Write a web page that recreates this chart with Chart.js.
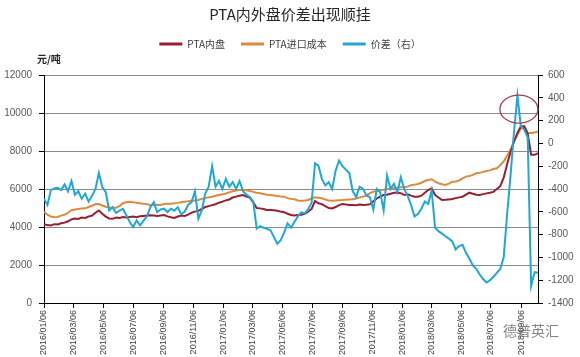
<!DOCTYPE html>
<html><head><meta charset="utf-8">
<script src="https://cdn.jsdelivr.net/npm/chart.js@4"></script>
<style>html,body{margin:0;padding:0;background:#fff;}canvas{display:block;}</style>
</head><body>
<canvas id="c" width="580" height="357"></canvas>
<script>
// ---- data ----
const startDate = '2016/01/06';
const weekCount = 145; // weekly observations from 2016/01/06
const tickLabels = ['2016/01/06','2016/03/06','2016/05/06','2016/07/06','2016/09/06','2016/11/06',
  '2017/01/06','2017/03/06','2017/05/06','2017/07/06','2017/09/06','2017/11/06',
  '2018/01/06','2018/03/06','2018/05/06','2018/07/06','2018/09/06'];
const leftTicks = [0,2000,4000,6000,8000,10000,12000];
const rightTicks = [-1400,-1200,-1000,-800,-600,-400,-200,0,200,400,600];

const domestic = [4150,4100,4080,4150,4130,4200,4230,4300,4400,4450,4420,4500,4480,4550,4600,4750,4870,4700,4550,4450,
  4430,4500,4480,4520,4500,4530,4550,4520,4560,4580,4600,4620,4600,4580,4610,4632,4560,4510,4480,4550,
  4600,4580,4650,4750,4810,4850,4950,5050,5100,5150,5200,5280,5334,5400,5450,5550,5600,5650,5685,5600,
  5544,5300,5000,4980,4950,4900,4895,4880,4850,4810,4780,4700,4632,4600,4626,4650,4700,4802,4950,5366,
  5250,5207,5100,5000,4978,5050,5150,5207,5180,5160,5155,5150,5180,5155,5170,5200,5350,5500,5600,5683,
  5700,5750,5806,5800,5780,5683,5720,5650,5595,5595,5650,5800,5948,6035,5683,5550,5419,5430,5450,5472,
  5520,5560,5595,5700,5806,5750,5700,5683,5730,5770,5800,5850,6000,6150,6600,7300,7950,8500,8950,9290,
  9300,8900,7800,7800,7880];
const importCost = [4808,4650,4550,4510,4530,4600,4650,4750,4880,4920,4950,4980,4983,5050,5120,5200,5210,5130,5070,5030,
  5018,5018,5100,5250,5300,5334,5300,5280,5246,5230,5200,5160,5158,5170,5160,5210,5220,5230,5250,5270,
  5300,5334,5350,5380,5400,5420,5480,5520,5560,5597,5640,5680,5720,5760,5820,5880,5920,5948,5960,5930,
  5895,5850,5800,5772,5740,5700,5685,5660,5630,5600,5597,5520,5480,5457,5400,5386,5400,5420,5500,5560,
  5540,5509,5450,5400,5386,5400,5410,5420,5440,5450,5457,5500,5560,5600,5650,5780,5860,5900,5940,5960,
  5990,6020,6035,6060,6088,6100,6124,6200,6230,6263,6330,6420,6476,6511,6388,6300,6247,6212,6280,6388,
  6400,6450,6560,6652,6680,6740,6828,6850,6900,6950,6980,7050,7093,7250,7450,7750,8062,8500,8850,9200,
  9295,8950,8943,8978,9031];
const spread = [-486,-540,-410,-395,-390,-410,-360,-420,-330,-450,-420,-486,-440,-510,-460,-400,-260,-384,-428,-588,
  -559,-610,-590,-575,-631,-690,-733,-675,-719,-680,-640,-559,-515,-602,-580,-573,-602,-573,-590,-560,
  -620,-600,-540,-515,-420,-660,-588,-440,-380,-200,-380,-330,-400,-310,-380,-340,-400,-330,-420,-450,
  -470,-510,-748,-725,-740,-750,-760,-820,-880,-850,-780,-700,-740,-690,-640,-605,-615,-580,-520,-175,
  -195,-311,-369,-340,-400,-239,-150,-200,-230,-260,-420,-471,-380,-399,-457,-471,-580,-400,-428,-588,
  -282,-399,-355,-428,-297,-400,-460,-540,-640,-620,-573,-510,-530,-413,-740,-770,-791,-815,-835,-860,
  -930,-900,-890,-960,-1010,-1070,-1100,-1150,-1190,-1220,-1200,-1170,-1135,-1100,-1000,-620,-280,100,420,150,
  120,50,-1250,-1130,-1135];

const seriesNames = ['PTA内盘','PTA进口成本','价差（右）'];
const titleText = 'PTA内外盘价差出现顺挂';
const unitText = '元/吨';
const watermarkText = '德普英汇';
const ellipseAt = {date: '2018/09/01', value: 300};

// ---- helpers ----
const DAY = 864e5;
function utc(s){ const [y,m,d] = s.split('/').map(Number); return Date.UTC(y, m-1, d); }
function dayOf(s){ return Math.round((utc(s) - utc(startDate)) / DAY); }
function fmt(t){ const d = new Date(t); const p = n => String(n).padStart(2,'0');
  return d.getUTCFullYear() + '/' + p(d.getUTCMonth()+1) + '/' + p(d.getUTCDate()); }
const dates = Array.from({length: weekCount}, (_, i) => fmt(utc(startDate) + i*7*DAY));
const xs = dates.map(dayOf);
const pts = arr => arr.map((v, i) => ({x: xs[i], y: v}));
const tickDays = tickLabels.map(dayOf);
const labelByDay = {}; tickLabels.forEach((l, i) => labelByDay[tickDays[i]] = l);

const RED = '#9c1c30', ORANGE = '#de8a3c', BLUE = '#1ea7d8';
const NUM_FONT = "'Liberation Sans', 'Noto Sans CJK SC', sans-serif";
const CJK_FONT = "'Noto Sans CJK SC', 'Liberation Sans', sans-serif";

const extras = {
  id: 'extras',
  afterDatasetsDraw(chart) {
    const {ctx, scales: {x, y1}} = chart;
    const cx = x.getPixelForValue(dayOf(ellipseAt.date));
    const cy = y1.getPixelForValue(ellipseAt.value);
    ctx.save();
    ctx.strokeStyle = '#a3404f'; ctx.lineWidth = 1.3;
    ctx.beginPath(); ctx.ellipse(cx, cy, 19, 14, 0, 0, Math.PI*2); ctx.stroke();
    ctx.restore();
  },
  afterDraw(chart) {
    const {ctx, chartArea} = chart;
    ctx.save();
    ctx.fillStyle = '#262626';
    ctx.font = "bold 10px " + CJK_FONT;
    ctx.textBaseline = 'middle'; ctx.textAlign = 'left';
    ctx.fillText(unitText, chartArea.left - 7, chartArea.top - 16);
    ctx.fillStyle = 'rgba(110,110,110,0.85)';
    ctx.font = "14px " + CJK_FONT;
    ctx.fillText(watermarkText, 503, 331);
    ctx.restore();
  }
};

const plain = v => String(v);
const baseDs = {pointRadius: 0, borderWidth: 2, tension: 0, fill: false};
new Chart(document.getElementById('c'), {
  type: 'line',
  data: { datasets: [
    {...baseDs, label: seriesNames[0], data: pts(domestic), borderColor: RED, backgroundColor: RED, yAxisID: 'y', order: 1},
    {...baseDs, label: seriesNames[1], data: pts(importCost), borderColor: ORANGE, backgroundColor: ORANGE, yAxisID: 'y', order: 2},
    {...baseDs, label: seriesNames[2], data: pts(spread), borderColor: BLUE, backgroundColor: BLUE, yAxisID: 'y1', order: 0}
  ]},
  options: {
    responsive: false, animation: false, devicePixelRatio: 1,
    layout: {padding: 0},
    plugins: {
      title: {display: true, text: titleText, color: '#262626',
        font: {family: CJK_FONT, size: 15, weight: 'normal'}, padding: {top: 5, bottom: 0}},
      subtitle: {display: true, text: '', weight: 500, font: {size: 16, lineHeight: 1}, padding: 0},
      legend: {display: true, position: 'top',
        labels: {boxWidth: 23, boxHeight: 3, padding: 16, color: '#404040',
          font: {family: CJK_FONT, size: 10},
          generateLabels: chart => Chart.defaults.plugins.legend.labels.generateLabels(chart).map(l => ({...l, lineWidth: 0})),
          sort: (a, b) => a.datasetIndex - b.datasetIndex}},
      tooltip: {enabled: false}
    },
    scales: {
      x: {type: 'linear', min: 0, max: xs[xs.length-1],
        afterBuildTicks: s => { s.ticks = tickDays.map(v => ({value: v})); },
        afterFit: s => { s.height = 54; },
        ticks: {autoSkip: false, minRotation: 90, maxRotation: 90, padding: 2, color: '#404040',
          font: {family: NUM_FONT, size: 9}, callback: v => labelByDay[v] ?? ''},
        grid: {drawOnChartArea: false, tickLength: 5, tickColor: '#000'},
        border: {color: '#000', width: 1}},
      y: {position: 'left', min: leftTicks[0], max: leftTicks[leftTicks.length-1],
        afterBuildTicks: s => { s.ticks = leftTicks.map(v => ({value: v})); },
        afterFit: s => { s.width = 44; },
        ticks: {padding: 7, color: '#595959', font: {family: NUM_FONT, size: 10}, callback: plain},
        grid: {color: '#8a8a8a', lineWidth: 1, tickLength: 5, tickColor: '#000'},
        border: {color: '#000', width: 1}},
      y1: {position: 'right', min: rightTicks[0], max: rightTicks[rightTicks.length-1],
        afterBuildTicks: s => { s.ticks = rightTicks.map(v => ({value: v})); },
        afterFit: s => { s.width = 42; },
        ticks: {padding: 5, color: '#595959', font: {family: NUM_FONT, size: 10}, callback: plain},
        grid: {drawOnChartArea: false, tickLength: 5, tickColor: '#000'},
        border: {color: '#000', width: 1}}
    }
  },
  plugins: [extras]
});
</script>
</body></html>
